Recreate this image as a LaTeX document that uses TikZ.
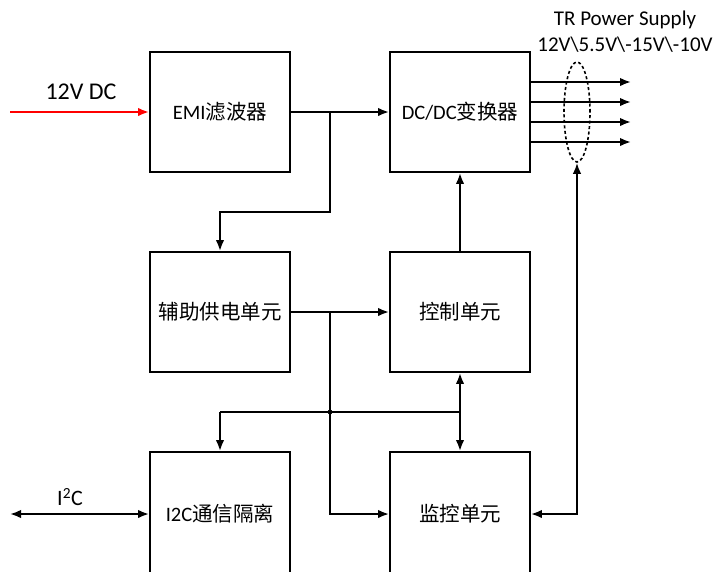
\documentclass[tikz,border=0pt]{standalone}
\usepackage{fontspec}
\setmainfont{Carlito}
\newfontfamily\cjk{Noto Sans CJK SC}
\usetikzlibrary{arrows.meta,shapes.geometric}
\begin{document}
\begin{tikzpicture}[x=1pt,y=-1pt,
  box/.style={draw,line width=1.9pt,minimum width=140pt,minimum height=120pt,inner sep=0pt,
    font=\fontsize{20.5}{24}\selectfont},
  tallbox/.style={box,minimum height=124pt},
  conn/.style={line width=1.9pt},
  arr/.style={conn,-{Latex[length=11pt,width=8.5pt]}},
  darr/.style={conn,{Latex[length=11pt,width=8.5pt]}-{Latex[length=11pt,width=8.5pt]}},
  lbl/.style={font=\fontsize{21}{25}\selectfont,inner sep=0pt}]
\useasboundingbox (0,0) rectangle (714,571);
\node[box] (emi) at (220,112) {EMI{\cjk 滤波器}};
\node[box] (dcdc) at (460,112) {DC/DC{\cjk 变换器}};
\node[box] (aux) at (220,312) {\cjk 辅助供电单元};
\node[box] (ctrl) at (460,312) {\cjk 控制单元};
\node[tallbox] (i2c) at (220,514) {I2C{\cjk 通信隔离}};
\node[tallbox] (mon) at (460,514) {\cjk 监控单元};
\node[draw,ellipse,dashed,dash pattern=on 3pt off 2.5pt,line width=1.6pt,minimum width=26pt,minimum height=100pt,inner sep=0pt] (ell) at (577,112) {};
% labels
\node[lbl,font=\fontsize{24}{28}\selectfont] (lin) at (81,92) {12V DC};
\node[lbl] (ltr) at (625,20) {TR Power Supply};
\node[lbl] (lv) at (625,45) {12V\textbackslash5.5V\textbackslash-15V\textbackslash-10V};
\node[lbl,font=\fontsize{22}{26}\selectfont] (li2c) at (70,497) {I\textsuperscript{2}C};
% coordinates
\coordinate (in) at (10,112);
\coordinate (i2cin) at (10,514);
\coordinate (j1) at (330,112);
\coordinate (j1b) at (330,212);
\coordinate (j2) at (330,312);
\coordinate (j3) at (330,412);
\coordinate (hL) at (220,412);
\coordinate (hR) at (460,412);
% connectors
\draw[conn,red,-{Latex[length=11pt,width=8.5pt]}] (in) -- (emi.west);
\draw[arr] (emi.east) -- (dcdc.west);
\draw[arr] (j1) -- (j1b) -| (aux.north);
\draw[arr] (ctrl.north) -- (dcdc.south);
\draw[arr] (aux.east) -- (ctrl.west);
\draw[arr] (j2) |- (mon.west);
\draw[conn] (hL) -- (hR);
\draw[arr] (hL) -- (i2c.north);
\draw[darr] (ctrl.south) -- (mon.north);
\fill (j3) circle (2.4pt);
\draw[darr] (i2cin) -- (i2c.west);
\draw[darr] (mon.east) -| (ell.south);
\foreach \y/\n in {82/a,102/b,122/c,142/d}{
  \coordinate (o\n s) at (530,\y);
  \coordinate (o\n e) at (631,\y);
  \draw[arr] (o\n s) -- (o\n e);
}
\end{tikzpicture}
\end{document}
